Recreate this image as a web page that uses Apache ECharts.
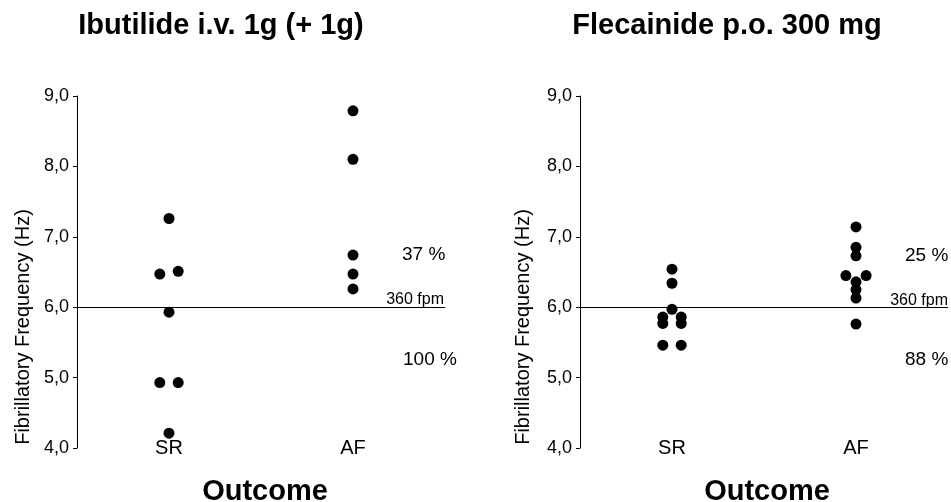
<!DOCTYPE html>
<html>
<head>
<meta charset="utf-8">
<script src="https://cdn.jsdelivr.net/npm/echarts@6/dist/echarts.min.js"></script>
<style>
html,body{margin:0;padding:0;background:#fff;}
#chart{width:951px;height:502px;}
</style>
</head>
<body>
<div id="chart"></div>
<script>
// ---- data ----
const categories = ['SR', 'AF'];
const yTickLabels = ['4,0', '5,0', '6,0', '7,0', '8,0', '9,0'];
const panelTitles = ['Ibutilide i.v. 1g (+ 1g)', 'Flecainide p.o. 300 mg'];
const xAxisTitle = 'Outcome';
const yAxisTitle = 'Fibrillatory Frequency (Hz)';
const thresholdHz = 6.0;
const thresholdLabel = '360 fpm';

const ibutilideSR = [7.26, 6.47, 6.51, 5.93, 4.93, 4.93, 4.21];
const ibutilideSRJitter = [0, -0.05, 0.05, 0, -0.05, 0.05, 0];
const ibutilideAF = [8.79, 8.10, 6.74, 6.47, 6.26];
const ibutilideAFJitter = [0, 0, 0, 0, 0];

const flecainideSR = [6.54, 6.34, 5.97, 5.86, 5.77, 5.86, 5.77, 5.46, 5.46];
const flecainideSRJitter = [0, 0, 0, -0.05, -0.05, 0.05, 0.05, -0.05, 0.05];
const flecainideAF = [7.14, 6.85, 6.73, 6.45, 6.45, 6.36, 6.25, 6.13, 5.76];
const flecainideAFJitter = [0, 0, 0, -0.055, 0.055, 0, 0, 0, 0];

const ibutilidePercents = ['37 %', '100 %'];   // above / below threshold
const flecainidePercents = ['25 %', '88 %'];

// ---- helpers ----
const FONT = '"Liberation Sans", Arial, Helvetica, sans-serif';
function pts(values, jitter, catIndex) {
  return values.map((v, i) => [catIndex + 0.5 + jitter[i], v]);
}

const chart = echarts.init(document.getElementById('chart'), null, {renderer: 'canvas'});

function xAxes(gi) {
  return [
    {
      type: 'category', gridIndex: gi, data: categories, boundaryGap: true,
      axisLine: {show: false}, axisTick: {show: false}, splitLine: {show: false},
      axisLabel: {color: '#000', fontSize: 20, fontFamily: FONT, margin: 0, verticalAlign: 'middle'}
    },
    {type: 'value', gridIndex: gi, min: 0, max: 2, show: false}
  ];
}
function yAxis(gi) {
  return {
    type: 'value', gridIndex: gi, min: 4, max: 9, interval: 1,
    axisLine: {show: true, lineStyle: {color: '#000', width: 1}},
    axisTick: {show: true, length: 4, lineStyle: {color: '#000', width: 1}},
    splitLine: {show: false},
    axisLabel: {
      color: '#000', fontSize: 18, fontFamily: FONT, margin: 8,
      formatter: (v, idx) => yTickLabels[idx]
    }
  };
}
const dotStyle = {color: '#000', opacity: 1};
function scatter(data, xi, yi) {
  return {type: 'scatter', xAxisIndex: xi, yAxisIndex: yi, data: data,
          symbol: 'circle', symbolSize: 11, itemStyle: dotStyle, z: 5, silent: true};
}
function threshold(xi, yi) {
  return {
    type: 'line', xAxisIndex: xi, yAxisIndex: yi, data: [], z: 1, silent: true,
    markLine: {
      silent: true, symbol: ['none', 'none'],
      lineStyle: {color: '#000', width: 1, type: 'solid', opacity: 1},
      label: {show: false},
      data: [{yAxis: thresholdHz}]
    }
  };
}

function txt(text, x, y, size, opts) {
  opts = opts || {};
  return {
    type: 'text', x: x, y: y, rotation: opts.rotation || 0, silent: true,
    style: {
      text: text, fill: '#000',
      font: (opts.bold ? 'bold ' : '') + size + 'px ' + FONT,
      align: opts.align || 'center', verticalAlign: 'middle'
    }
  };
}

const option = {
  animation: false,
  backgroundColor: '#fff',
  grid: [
    {left: 77, top: 96, width: 368, height: 352},
    {left: 580, top: 96, width: 368, height: 352}
  ],
  xAxis: [...xAxes(0), ...xAxes(1)],
  yAxis: [yAxis(0), yAxis(1)],
  series: [
    threshold(1, 0),
    threshold(3, 1),
    scatter(pts(ibutilideSR, ibutilideSRJitter, 0), 1, 0),
    scatter(pts(ibutilideAF, ibutilideAFJitter, 1), 1, 0),
    scatter(pts(flecainideSR, flecainideSRJitter, 0), 3, 1),
    scatter(pts(flecainideAF, flecainideAFJitter, 1), 3, 1)
  ],
  graphic: [
    txt(panelTitles[0], 221, 26, 29, {bold: true}),
    txt(panelTitles[1], 727, 26, 29, {bold: true}),
    txt(xAxisTitle, 265, 492, 29, {bold: true}),
    txt(xAxisTitle, 767, 492, 29, {bold: true}),
    txt(yAxisTitle, 23, 327, 20, {rotation: Math.PI / 2}),
    txt(yAxisTitle, 523, 327, 20, {rotation: Math.PI / 2}),
    txt(ibutilidePercents[0], 402, 255, 19, {align: 'left'}),
    txt(ibutilidePercents[1], 403, 360, 19, {align: 'left'}),
    txt(thresholdLabel, 444, 300, 16, {align: 'right'}),
    txt(flecainidePercents[0], 905, 256, 19, {align: 'left'}),
    txt(flecainidePercents[1], 905, 360, 19, {align: 'left'}),
    txt(thresholdLabel, 948, 301, 16, {align: 'right'})
  ]
};
chart.setOption(option);
</script>
</body>
</html>
